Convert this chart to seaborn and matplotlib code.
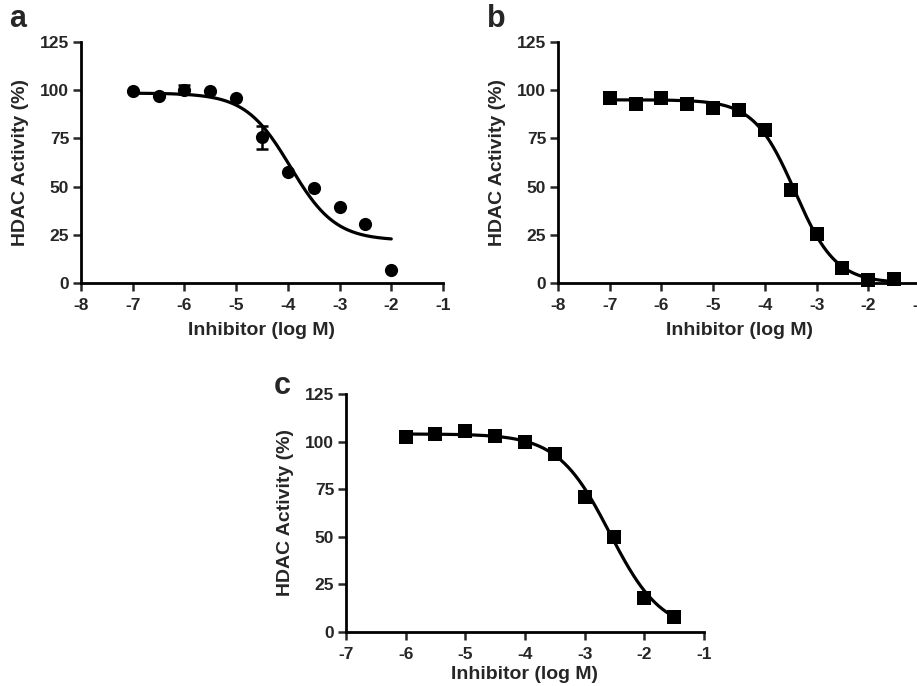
import numpy as np
import pandas as pd
import seaborn as sns
import matplotlib
matplotlib.use("Agg")
import matplotlib.pyplot as plt

# ---- data ----
# panel a (circles)
a_x = [-7, -6.5, -6, -5.5, -5, -4.5, -4, -3.5, -3, -2.5, -2]
a_y = [99.5, 97.0, 100.3, 99.5, 96.2, 75.5, 57.4, 49.5, 39.3, 30.7, 6.9]
a_err = [0, 0, 2.5, 0, 0, 6.0, 0, 0, 0, 0, 0]
a_fit = dict(top=98.5, bottom=22.0, logic50=-3.95, hill=1.0, x0=-7, x1=-2)

# panel b (squares)
b_x = [-7, -6.5, -6, -5.5, -5, -4.5, -4, -3.5, -3, -2.5, -2, -1.5]
b_y = [96.0, 92.7, 96.0, 92.7, 90.5, 89.6, 79.2, 48.1, 25.3, 8.0, 1.4, 2.1]
b_err = [0] * 12
b_fit = dict(top=95.0, bottom=0.0, logic50=-3.42, hill=1.1, x0=-7, x1=-1.5)

# panel c (squares)
c_x = [-6, -5.5, -5, -4.5, -4, -3.5, -3, -2.5, -2, -1.5]
c_y = [102.6, 103.9, 105.3, 102.7, 99.7, 93.6, 71.1, 49.7, 18.1, 7.9]
c_err = [2.0, 0, 0, 0, 0, 0, 0, 0, 0, 0]
c_fit = dict(top=104.0, bottom=0.0, logic50=-2.58, hill=1.0, x0=-6, x1=-1.5)

y_ticks = [0, 25, 50, 75, 100, 125]

sns.set_style("ticks")
plt.rcParams['font.family'] = ['Liberation Sans', 'DejaVu Sans']
plt.rcParams['font.weight'] = 'bold'


def four_pl(x, top, bottom, logic50, hill):
    return bottom + (top - bottom) / (1 + 10 ** ((x - logic50) * hill))


def panel(ax, xs, ys, errs, fit, marker, xlim, xpad=7):
    xx = np.linspace(fit['x0'], fit['x1'], 300)
    curve = pd.DataFrame({'x': xx, 'y': four_pl(xx, fit['top'], fit['bottom'],
                                                fit['logic50'], fit['hill'])})
    sns.lineplot(data=curve, x='x', y='y', ax=ax, color='black', lw=2.3)
    pts = pd.DataFrame({'x': xs, 'y': ys, 'e': errs})
    eb = pts[pts['e'] > 0]
    ax.errorbar(eb['x'], eb['y'], yerr=eb['e'], fmt='none', ecolor='black',
                elinewidth=1.8, capsize=4.5, capthick=1.8, zorder=3)
    sns.scatterplot(data=pts, x='x', y='y', ax=ax, color='black', marker=marker,
                    s=90, edgecolor='black', linewidth=0, zorder=4, clip_on=False)
    ax.set_xlim(*xlim)
    ax.set_ylim(0, 125)
    ticks = np.arange(xlim[0], xlim[1] + 1)
    ax.set_xticks(ticks)
    ax.set_yticks(y_ticks)
    ax.set_xticklabels([str(int(v)) for v in ticks])
    ax.set_xlabel('Inhibitor (log M)', fontsize=14, fontweight='bold', labelpad=xpad)
    ax.set_ylabel('HDAC Activity (%)', fontsize=14, fontweight='bold', labelpad=8)
    ax.tick_params(axis='both', labelsize=12.5, width=1.8, length=5.5, pad=3,
                   direction='out')
    ax.tick_params(axis='x', pad=5)
    for lab in ax.get_xticklabels() + ax.get_yticklabels():
        lab.set_fontweight('bold')
    sns.despine(ax=ax)
    for sp in ['left', 'bottom']:
        ax.spines[sp].set_linewidth(2.0)
        ax.spines[sp].set_color('black')
    return ax


fig = plt.figure(figsize=(9.17, 6.86), dpi=100)
ax_a = fig.add_axes([0.0883, 0.5875, 0.3948, 0.3513])
ax_b = fig.add_axes([0.6085, 0.5875, 0.3948, 0.3513])
ax_c = fig.add_axes([0.3773, 0.0787, 0.3904, 0.3470])

panel(ax_a, a_x, a_y, a_err, a_fit, 'o', (-8, -1))
panel(ax_b, b_x, b_y, b_err, b_fit, 's', (-8, -1))
panel(ax_c, c_x, c_y, c_err, c_fit, 's', (-7, -1), xpad=3)

fig.text(0.010, 0.950, 'a', fontsize=22, fontweight='bold', va='bottom')
fig.text(0.531, 0.950, 'b', fontsize=22, fontweight='bold', va='bottom')
fig.text(0.298, 0.416, 'c', fontsize=22, fontweight='bold', va='bottom')

fig.savefig('out.png', dpi=100)
